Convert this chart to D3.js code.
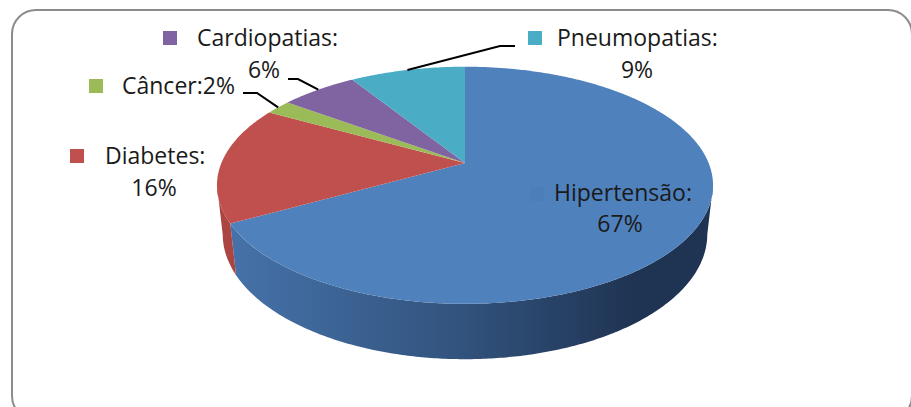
<!DOCTYPE html>
<html>
<head>
<meta charset="utf-8">
<script src="https://cdn.jsdelivr.net/npm/d3@7"></script>
<style>
body { margin: 0; background: #fff; }
text { font-family: "Open Sans", sans-serif; }
</style>
</head>
<body>
<div id="chart"></div>
<script>
//////////
// Data //
//////////

var categories = ["Hipertensão", "Diabetes", "Câncer", "Cardiopatias", "Pneumopatias"];
var values = [67, 16, 2, 6, 9];
var colors = ["#4f81bd", "#c0504d", "#9bbb59", "#8064a2", "#4bacc6"];

// label placement (Excel style, one per slice)
var labelLayout = [
	{ key: [530, 187], name: [554, 201], pct: [620, 232], line: null },
	{ key: [70, 149], name: [105, 164], pct: [154, 196], line: null },
	{ key: [89, 79], name: [122, 94], pct: null, line: [[243, 93], [257, 93]] },
	{ key: [163, 31], name: [197, 46], pct: [264, 78], line: [[288, 79], [298, 79]] },
	{ key: [528, 31], name: [557, 46], pct: [637, 78], line: [[515, 46], [500, 46]] }
];

///////////////////
// Initial setup //
///////////////////

var width = 911;
var height = 407;
var svg = d3.select("#chart").append("svg")
	.attr("width", width).attr("height", height);

// frame
svg.append("rect")
	.attr("x", 12).attr("y", 10)
	.attr("width", 900).attr("height", 410)
	.attr("rx", 24).attr("ry", 24)
	.attr("fill", "#fff")
	.attr("stroke", "#8c8c8c")
	.attr("stroke-width", 2);

// 3d projection of the disc (perspective, seen from above)
var cx = 465, cy = 163;
var tilt = 28 * Math.PI / 180;
var camD = 4.7, focal = 1145, thick = 0.23;
function proj(a, r, lvl) {
	var x = r * Math.sin(a), z = r * Math.cos(a), y = lvl;
	var yc = y * Math.cos(tilt) + z * Math.sin(tilt);
	var zc = camD + z * Math.cos(tilt) - y * Math.sin(tilt);
	return [cx + focal * x / zc, cy - focal * yc / zc];
}

var pie = d3.pie().sort(null).value(function(d) { return d; });
var arcs = pie(values);
var line = d3.line();

// visible part of the outer wall
var aR = Math.acos(-Math.cos(tilt) / camD);
var aL = 2 * Math.PI - aR;

var defs = svg.append("defs");
var grad = defs.append("linearGradient").attr("id", "sideBlue")
	.attr("gradientUnits", "userSpaceOnUse")
	.attr("x1", 218).attr("x2", 714).attr("y1", 0).attr("y2", 0);
grad.append("stop").attr("offset", 0).attr("stop-color", "#4774ac");
grad.append("stop").attr("offset", 0.5).attr("stop-color", "#31527c");
grad.append("stop").attr("offset", 0.85).attr("stop-color", "#1f3352");
grad.append("stop").attr("offset", 1).attr("stop-color", "#1f3352");
var sideFills = ["url(#sideBlue)", "#ab4541", "#7d9448", "#654f81", "#3b889d"];

function ring(a0, a1, lvl) {
	var pts = [], n = Math.max(2, Math.ceil((a1 - a0) / 0.01));
	for (var i = 0; i <= n; i++) pts.push(proj(a0 + (a1 - a0) * i / n, 1, lvl));
	return pts;
}

// Walls
arcs.forEach(function(d, i) {
	var a0 = Math.max(d.startAngle, aR), a1 = Math.min(d.endAngle, aL);
	if (a1 <= a0) return;
	var pts = ring(a0, a1, 0).concat(ring(a0, a1, -thick).reverse());
	svg.append("path").attr("d", line(pts) + "Z").attr("fill", sideFills[i]);
});

// Top faces
svg.selectAll("path.top").data(arcs).enter().append("path")
	.attr("class", "top")
	.attr("d", function(d) {
		return line([[cx, cy]].concat(ring(d.startAngle, d.endAngle, 0))) + "Z";
	})
	.attr("fill", function(d, i) { return colors[i]; });

// Leader lines
arcs.forEach(function(d, i) {
	var L = labelLayout[i];
	if (!L.line) return;
	var end = proj((d.startAngle + d.endAngle) / 2, 1, 0);
	svg.append("path")
		.attr("d", line(L.line.concat([end])))
		.attr("fill", "none").attr("stroke", "#000").attr("stroke-width", 2);
});

// Labels
labelLayout.forEach(function(L, i) {
	svg.append("rect")
		.attr("x", L.key[0]).attr("y", L.key[1])
		.attr("width", 14).attr("height", 14)
		.attr("fill", i === 0 ? "#4c7eba" : colors[i]);
	svg.append("text")
		.attr("x", L.name[0]).attr("y", L.name[1])
		.attr("font-size", "23px").attr("fill", "#1a1a1a")
		.text(categories[i] + ":" + (L.pct ? "" : values[i] + "%"));
	if (L.pct) {
		svg.append("text")
			.attr("x", L.pct[0]).attr("y", L.pct[1])
			.attr("text-anchor", "middle")
			.attr("font-size", "23px").attr("fill", "#1a1a1a")
			.text(values[i] + "%");
	}
});
</script>
</body>
</html>
